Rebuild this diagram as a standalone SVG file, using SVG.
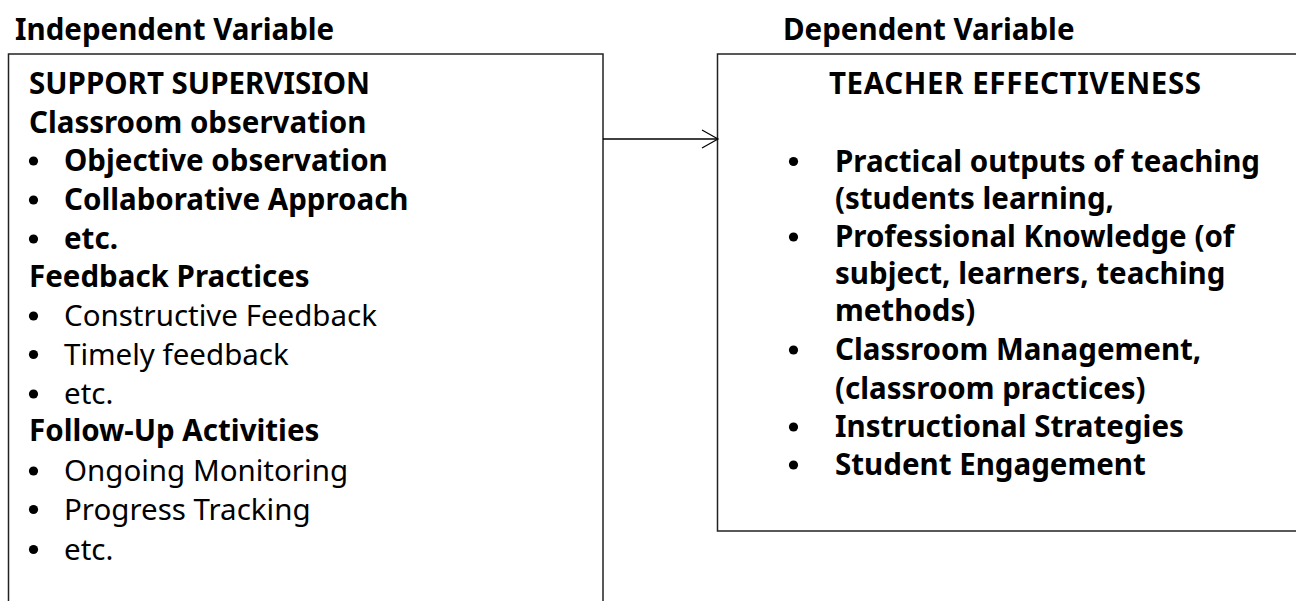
<svg xmlns="http://www.w3.org/2000/svg" width="1296" height="601" viewBox="0 0 1296 601">
<defs>
<style>
.t{font-family:"Noto Sans","DejaVu Sans",sans-serif;font-size:29.5px;fill:#000}
.b{font-weight:bold}
.r{font-weight:normal}
.bu{fill:#000}
.box{fill:#fff;stroke:#222;stroke-width:1.5}
.con{stroke:#000;stroke-width:1.3;fill:none}
</style>
<marker id="arr" markerWidth="20" markerHeight="24" refX="17" refY="10" orient="auto" markerUnits="userSpaceOnUse">
<path d="M1,1 L17,10 L1,19" fill="none" stroke="#000" stroke-width="1.2"/>
</marker>
</defs>
<rect width="1296" height="601" fill="#fff"/>
<text class="t b" x="15" y="40">Independent Variable</text>
<text class="t b" x="783" y="40">Dependent Variable</text>
<g id="independent">
<rect class="box" x="8.5" y="54" width="594.5" height="560"/>
<text class="t b" x="29" y="94">SUPPORT SUPERVISION</text>
<text class="t b" x="29" y="132.5">Classroom observation</text>
<circle class="bu" cx="33.5" cy="161" r="4.6"/><text class="t b" x="64" y="171">Objective observation</text>
<circle class="bu" cx="33.5" cy="200" r="4.6"/><text class="t b" x="64" y="210">Collaborative Approach</text>
<circle class="bu" cx="33.5" cy="239" r="4.6"/><text class="t b" x="64" y="249">etc.</text>
<text class="t b" x="29" y="287">Feedback Practices</text>
<circle class="bu" cx="33.5" cy="316" r="4.6"/><text class="t r" x="64" y="326">Constructive Feedback</text>
<circle class="bu" cx="33.5" cy="354.5" r="4.6"/><text class="t r" x="64" y="364.5">Timely feedback</text>
<circle class="bu" cx="33.5" cy="394" r="4.6"/><text class="t r" x="64" y="404">etc.</text>
<text class="t b" x="29" y="441">Follow-Up Activities</text>
<circle class="bu" cx="33.5" cy="471" r="4.6"/><text class="t r" x="64" y="481">Ongoing Monitoring</text>
<circle class="bu" cx="33.5" cy="509.5" r="4.6"/><text class="t r" x="64" y="519.5">Progress Tracking</text>
<circle class="bu" cx="33.5" cy="549.5" r="4.6"/><text class="t r" x="64" y="559.5">etc.</text>
</g>
<g id="dependent">
<rect class="box" x="717.5" y="54" width="600" height="477"/>
<text class="t b" x="829" y="94" textLength="372">TEACHER EFFECTIVENESS</text>
<circle class="bu" cx="793.5" cy="161.5" r="4.6"/><text class="t b" x="835" y="171.5">Practical outputs of teaching</text>
<text class="t b" x="835" y="209">(students learning,</text>
<circle class="bu" cx="793.5" cy="237" r="4.6"/><text class="t b" x="835" y="247">Professional Knowledge (of</text>
<text class="t b" x="835" y="284">subject, learners, teaching</text>
<text class="t b" x="835" y="321">methods)</text>
<circle class="bu" cx="793.5" cy="350" r="4.6"/><text class="t b" x="835" y="360">Classroom Management,</text>
<text class="t b" x="835" y="398.5">(classroom practices)</text>
<circle class="bu" cx="793.5" cy="427" r="4.6"/><text class="t b" x="835" y="437">Instructional Strategies</text>
<circle class="bu" cx="793.5" cy="465" r="4.6"/><text class="t b" x="835" y="475">Student Engagement</text>
</g>
<g id="connectors">
<line class="con" x1="603" y1="139" x2="718" y2="139" marker-end="url(#arr)"/>
</g>
</svg>
